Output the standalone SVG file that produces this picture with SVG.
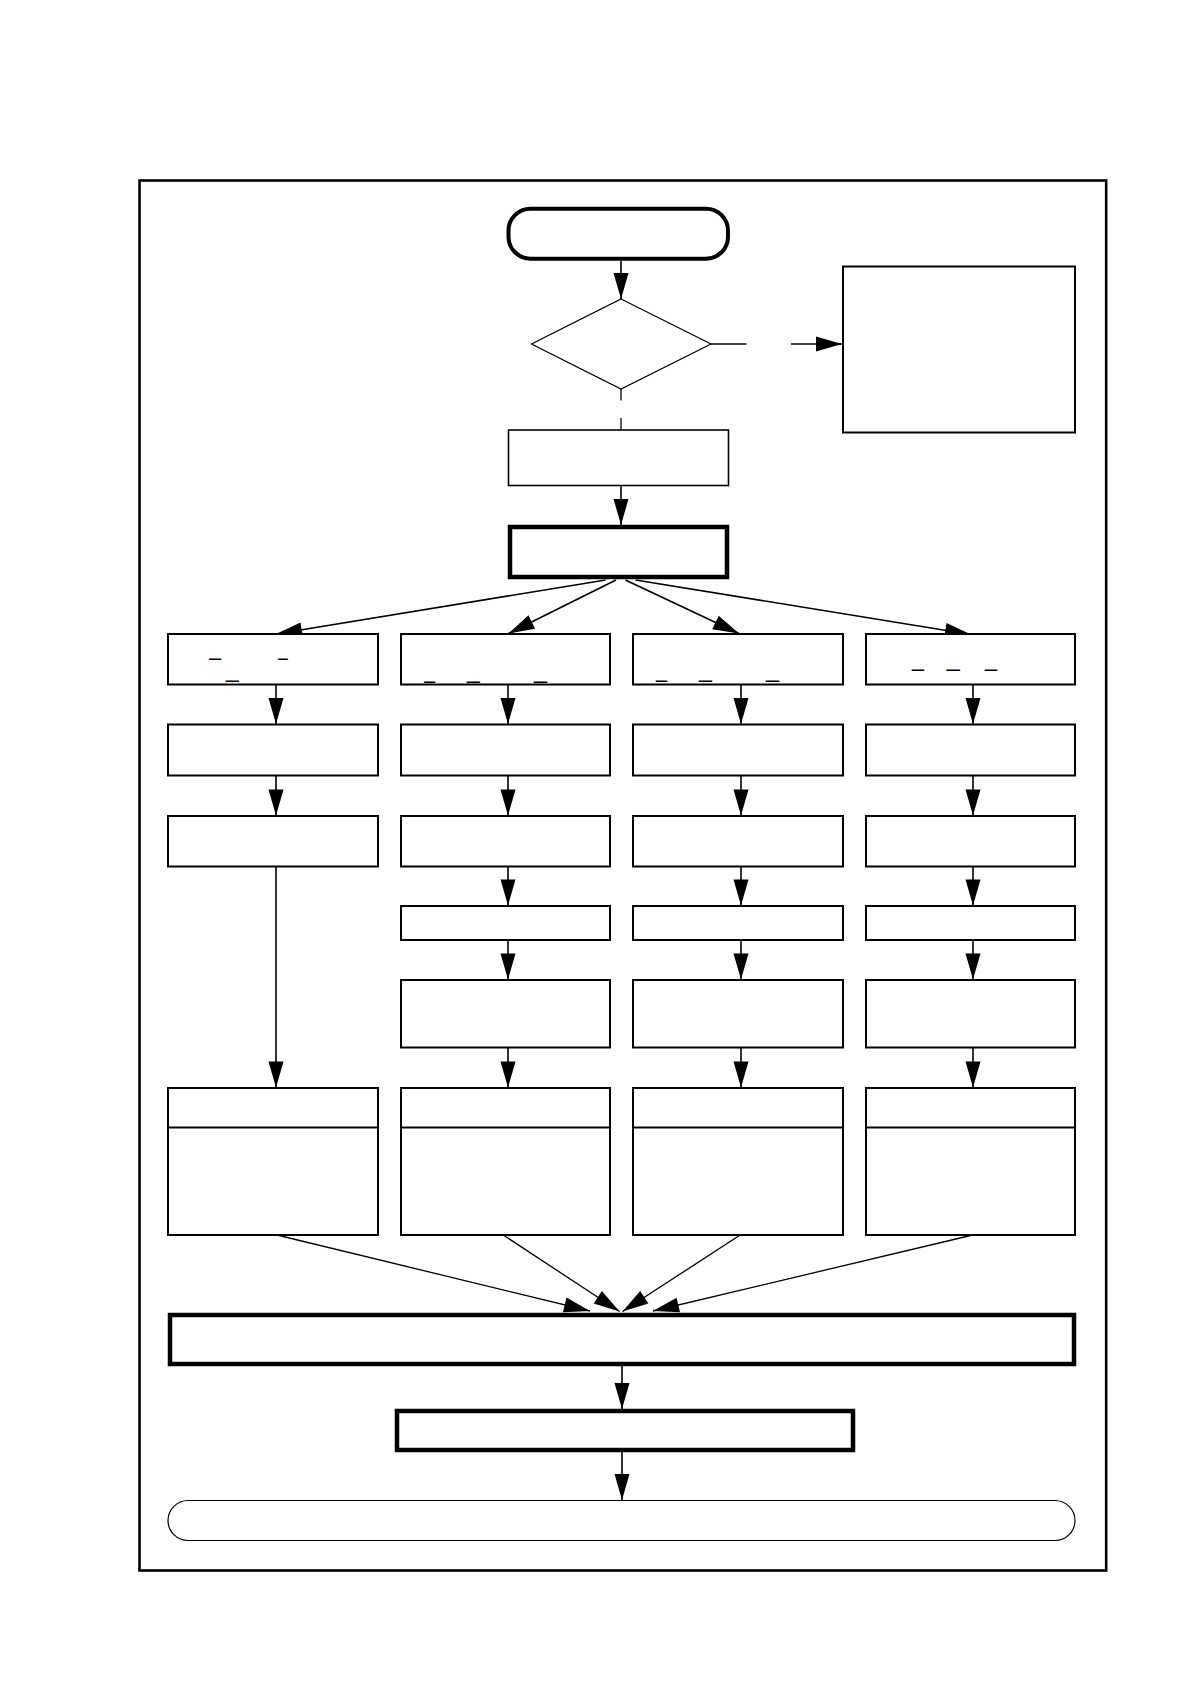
<svg xmlns="http://www.w3.org/2000/svg" width="1188" height="1684" viewBox="0 0 1188 1684">
<defs>
<style>
.box{fill:#fff;stroke:#000;stroke-width:2}
.thin{fill:#fff;stroke:#000;stroke-width:1.2}
.thick{fill:#fff;stroke:#000;stroke-width:4.5}
.ln{fill:none;stroke:#000;stroke-width:1.6}
.lt{fill:none;stroke:#000;stroke-width:1.3}
.us{font-family:"Liberation Sans",Arial,sans-serif;font-size:24px;fill:#000}
</style>
<marker id="ah" markerUnits="userSpaceOnUse" markerWidth="27" markerHeight="17" refX="26" refY="8" orient="auto" overflow="visible">
<path d="M0,0.5 L26,8 L0,15.5 Z" fill="#000"/>
</marker>
</defs>
<rect width="1188" height="1684" fill="#fff"/>
<rect id="frame" x="139.5" y="180.5" width="966.7" height="1390" fill="none" stroke="#000" stroke-width="2.6"/>

<g id="connectors">
<line class="ln" x1="621" y1="261" x2="621" y2="299" marker-end="url(#ah)"/>
<line class="ln" x1="711" y1="344" x2="746.5" y2="344"/>
<line class="ln" x1="791" y1="344" x2="842" y2="344" marker-end="url(#ah)"/>
<line class="lt" x1="621" y1="389" x2="621" y2="400.5"/>
<line class="lt" x1="621" y1="418" x2="621" y2="429.5"/>
<line class="ln" x1="621" y1="486" x2="621" y2="525" marker-end="url(#ah)"/>
<line class="ln" x1="605.6" y1="580" x2="276" y2="634" marker-end="url(#ah)"/>
<line class="ln" x1="616" y1="580" x2="508.5" y2="633.5" marker-end="url(#ah)"/>
<line class="ln" x1="625.4" y1="580" x2="739" y2="633.5" marker-end="url(#ah)"/>
<line class="ln" x1="635.6" y1="580" x2="971" y2="634.5" marker-end="url(#ah)"/>

<line class="ln" x1="276" y1="685" x2="276" y2="724" marker-end="url(#ah)"/>
<line class="ln" x1="276" y1="776" x2="276" y2="815.5" marker-end="url(#ah)"/>
<line class="ln" x1="276" y1="867" x2="276" y2="1087.5" marker-end="url(#ah)"/>

<line class="ln" x1="508" y1="685" x2="508" y2="724" marker-end="url(#ah)"/>
<line class="ln" x1="508" y1="776" x2="508" y2="815.5" marker-end="url(#ah)"/>
<line class="ln" x1="508" y1="867" x2="508" y2="905.5" marker-end="url(#ah)"/>
<line class="ln" x1="508" y1="940.5" x2="508" y2="979.5" marker-end="url(#ah)"/>
<line class="ln" x1="508" y1="1048" x2="508" y2="1087.5" marker-end="url(#ah)"/>

<line class="ln" x1="741" y1="685" x2="741" y2="724" marker-end="url(#ah)"/>
<line class="ln" x1="741" y1="776" x2="741" y2="815.5" marker-end="url(#ah)"/>
<line class="ln" x1="741" y1="867" x2="741" y2="905.5" marker-end="url(#ah)"/>
<line class="ln" x1="741" y1="940.5" x2="741" y2="979.5" marker-end="url(#ah)"/>
<line class="ln" x1="741" y1="1048" x2="741" y2="1087.5" marker-end="url(#ah)"/>

<line class="ln" x1="973" y1="685" x2="973" y2="724" marker-end="url(#ah)"/>
<line class="ln" x1="973" y1="776" x2="973" y2="815.5" marker-end="url(#ah)"/>
<line class="ln" x1="973" y1="867" x2="973" y2="905.5" marker-end="url(#ah)"/>
<line class="ln" x1="973" y1="940.5" x2="973" y2="979.5" marker-end="url(#ah)"/>
<line class="ln" x1="973" y1="1048" x2="973" y2="1087.5" marker-end="url(#ah)"/>

<line class="lt" x1="279" y1="1235.5" x2="590" y2="1311" marker-end="url(#ah)"/>
<line class="lt" x1="504" y1="1235.5" x2="619.5" y2="1311.5" marker-end="url(#ah)"/>
<line class="lt" x1="739.4" y1="1235.5" x2="622.5" y2="1311.5" marker-end="url(#ah)"/>
<line class="lt" x1="970.6" y1="1235.5" x2="653" y2="1311" marker-end="url(#ah)"/>

<line class="ln" x1="622" y1="1366" x2="622" y2="1409" marker-end="url(#ah)"/>
<line class="ln" x1="622" y1="1452" x2="622" y2="1500" marker-end="url(#ah)"/>
</g>

<g id="start"><rect class="box" x="508.5" y="208.7" width="219.5" height="50" rx="22" ry="22" style="stroke-width:4"/></g>
<g id="decision"><polygon class="thin" points="621,299 711,344 621,389 531.5,344"/></g>
<g id="side-box"><rect class="box" x="843" y="266.5" width="232" height="166"/></g>
<g id="pre-box"><rect class="box" x="508.5" y="430" width="220" height="55.5" style="stroke-width:1.6"/></g>
<g id="dispatch"><rect class="thick" x="510" y="527" width="217" height="50"/></g>

<g id="c1r1"><rect class="box" x="168" y="634" width="210" height="50.5"/>
<text class="us" x="209.3" y="654.5" textLength="11.7" lengthAdjust="spacingAndGlyphs">_</text>
<text class="us" x="278.3" y="654.5" textLength="9.4" lengthAdjust="spacingAndGlyphs">_</text>
<text class="us" x="226" y="676.5" textLength="12.7" lengthAdjust="spacingAndGlyphs">_</text>
</g>
<g id="c2r1"><rect class="box" x="401" y="634" width="209" height="50.5"/>
<text class="us" x="424.3" y="678.3" textLength="10.7" lengthAdjust="spacingAndGlyphs">_</text>
<text class="us" x="467" y="678.3" textLength="12.7" lengthAdjust="spacingAndGlyphs">_</text>
<text class="us" x="534" y="678.3" textLength="13" lengthAdjust="spacingAndGlyphs">_</text>
</g>
<g id="c3r1"><rect class="box" x="633" y="634" width="210" height="50.5"/>
<text class="us" x="656" y="676.5" textLength="11" lengthAdjust="spacingAndGlyphs">_</text>
<text class="us" x="699" y="676.5" textLength="13" lengthAdjust="spacingAndGlyphs">_</text>
<text class="us" x="766" y="676.5" textLength="13" lengthAdjust="spacingAndGlyphs">_</text>
</g>
<g id="c4r1"><rect class="box" x="866" y="634" width="209" height="50.5"/>
<text class="us" x="912" y="665.5" textLength="12" lengthAdjust="spacingAndGlyphs">_</text>
<text class="us" x="946.7" y="665.5" textLength="13" lengthAdjust="spacingAndGlyphs">_</text>
<text class="us" x="985" y="665.5" textLength="12" lengthAdjust="spacingAndGlyphs">_</text>
</g>

<g id="c1r2"><rect class="box" x="168" y="724.5" width="210" height="51"/></g>
<g id="c2r2"><rect class="box" x="401" y="724.5" width="209" height="51"/></g>
<g id="c3r2"><rect class="box" x="633" y="724.5" width="210" height="51"/></g>
<g id="c4r2"><rect class="box" x="866" y="724.5" width="209" height="51"/></g>

<g id="c1r3"><rect class="box" x="168" y="816" width="210" height="50.5"/></g>
<g id="c2r3"><rect class="box" x="401" y="816" width="209" height="50.5"/></g>
<g id="c3r3"><rect class="box" x="633" y="816" width="210" height="50.5"/></g>
<g id="c4r3"><rect class="box" x="866" y="816" width="209" height="50.5"/></g>

<g id="c2r4"><rect class="box" x="401" y="906" width="209" height="34"/></g>
<g id="c3r4"><rect class="box" x="633" y="906" width="210" height="34"/></g>
<g id="c4r4"><rect class="box" x="866" y="906" width="209" height="34"/></g>

<g id="c2r5"><rect class="box" x="401" y="980" width="209" height="67.5"/></g>
<g id="c3r5"><rect class="box" x="633" y="980" width="210" height="67.5"/></g>
<g id="c4r5"><rect class="box" x="866" y="980" width="209" height="67.5"/></g>

<g id="c1r6"><rect class="box" x="168" y="1088" width="210" height="147"/><line class="box" x1="168" y1="1127.5" x2="378" y2="1127.5"/></g>
<g id="c2r6"><rect class="box" x="401" y="1088" width="209" height="147"/><line class="box" x1="401" y1="1127.5" x2="610" y2="1127.5"/></g>
<g id="c3r6"><rect class="box" x="633" y="1088" width="210" height="147"/><line class="box" x1="633" y1="1127.5" x2="843" y2="1127.5"/></g>
<g id="c4r6"><rect class="box" x="866" y="1088" width="209" height="147"/><line class="box" x1="866" y1="1127.5" x2="1075" y2="1127.5"/></g>

<g id="merge"><rect class="thick" x="170" y="1315" width="904" height="49"/></g>
<g id="post"><rect class="thick" x="397" y="1411" width="456" height="39"/></g>
<g id="end"><rect class="thin" x="168" y="1500.5" width="907" height="40" rx="20" ry="20"/></g>
</svg>
